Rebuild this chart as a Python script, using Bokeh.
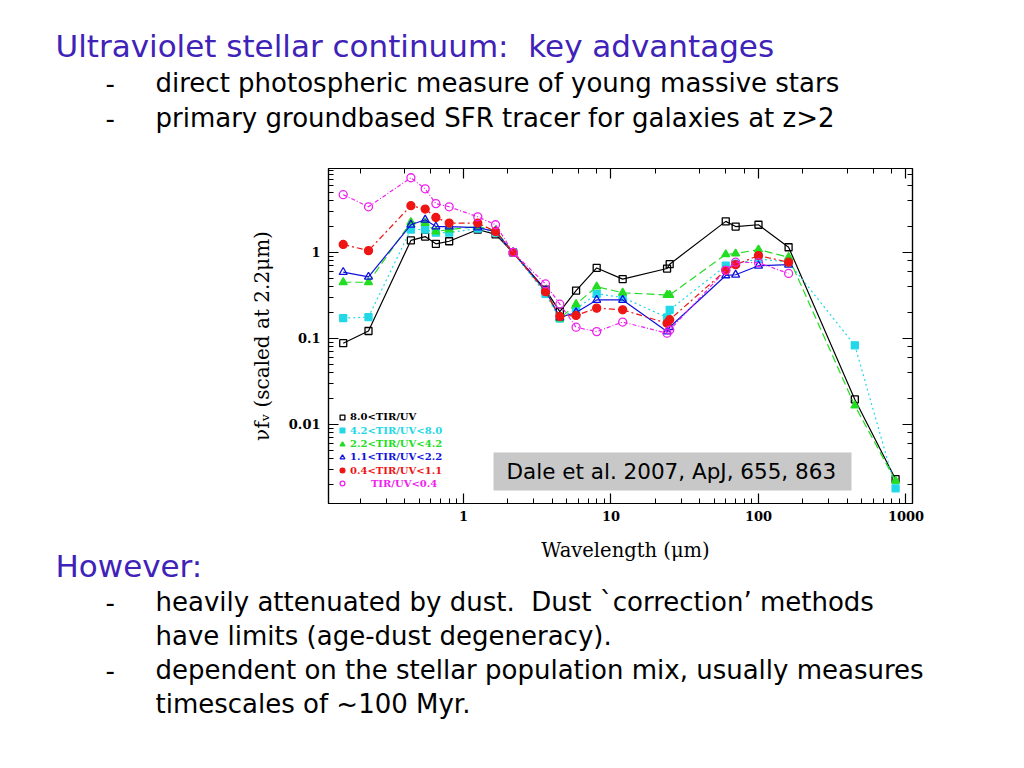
from bokeh.plotting import figure
from bokeh.layouts import column
from bokeh.models import (LogAxis, LogTicker, BoxAnnotation, Label, Legend, LegendItem,
                          CustomJSTickFormatter, Range1d)
from bokeh.core.properties import value
from bokeh.embed import file_html
from bokeh.resources import INLINE

nan = float("nan")

# ---- data ----
wavelength = [0.153, 0.227, 0.44, 0.55, 0.65, 0.80, 1.25, 1.65, 2.17, 3.6, 4.5, 5.8, 8.0,
              12, 24, 25, 60, 70, 100, 160, 450, 850]

s_80 = [0.088, 0.122, 1.38, 1.53, 1.26, 1.35, 1.85, 1.62, 1.0, 0.37, 0.205, 0.36, 0.66,
        0.49, 0.65, 0.73, 2.3, 2.0, 2.1, 1.15, 0.0195, 0.0023]
s_42 = [0.172, 0.177, 1.85, 1.85, 1.7, 1.7, 1.9, 1.7, 1.0, 0.33, 0.17, 0.22, 0.33,
        0.30, 0.175, 0.215, 0.70, 0.74, 0.84, 0.77, 0.083, 0.0018]
s_22 = [0.45, 0.45, 2.25, 2.2, 1.75, 1.85, 2.0, 1.8, 1.0, 0.35, 0.17, 0.25, 0.40,
        0.34, 0.32, 0.32, 0.95, 0.97, 1.08, 0.88, 0.0165, 0.0022]
s_11 = [0.59, 0.52, 2.1, 2.4, 2.0, 2.0, 1.95, 1.75, 1.0, 0.36, 0.175, 0.20, 0.28,
        0.28, 0.12, 0.135, 0.54, 0.55, 0.70, 0.72, nan, nan]
s_04 = [1.24, 1.05, 3.5, 3.2, 2.55, 2.2, 2.2, 1.75, 1.0, 0.35, 0.18, 0.185, 0.225,
        0.215, 0.15, 0.165, 0.62, 0.72, 0.92, 0.77, nan, nan]
s_00 = [4.7, 3.4, 7.4, 5.5, 3.7, 3.4, 2.6, 2.1, 1.0, 0.43, 0.25, 0.135, 0.12,
        0.155, 0.115, 0.125, 0.62, 0.77, 0.76, 0.57, nan, nan]

labels = ["8.0<TIR/UV", "4.2<TIR/UV<8.0", "2.2<TIR/UV<4.2", "1.1<TIR/UV<2.2",
          "0.4<TIR/UV<1.1", "\u00a0\u00a0\u00a0\u00a0\u00a0\u00a0TIR/UV<0.4"]
series = [s_80, s_42, s_22, s_11, s_04, s_00]

# ---- styles ----
colors = ["black", "#22d8e6", "#22dd22", "#1111dd", "#ee1515", "#ee22ee"]
markers = ["square", "square", "triangle", "triangle", "circle", "circle"]
filled = [False, True, True, False, True, False]
dashes = ["solid", "2 3", "8 4", "solid", "6 3 2 3", "4 2 1 2"]
msizes = [7, 7, 8, 8, 8, 8]

W = 1008
A_TOP, B_TOP, C_TOP, C_BOT = 0, 140, 530, 752
FL, FR, FT, FB = 328, 912, 168, 503   # page coords of the plot frame


def text_fig(top, bottom):
    f = figure(width=W, height=bottom - top, x_range=Range1d(0, W),
               y_range=Range1d(bottom, top), x_axis_type=None, y_axis_type=None,
               output_backend="svg", toolbar_location=None, min_border=0)
    f.outline_line_color = None
    f.background_fill_color = "white"
    f.border_fill_color = "white"
    return f


# ---- chart ----
p = figure(width=W, height=C_TOP - B_TOP, x_axis_type="log", y_axis_type="log",
           x_range=Range1d(0.1216, 1107), y_range=Range1d(0.0012, 9.48),
           output_backend="svg", toolbar_location=None,
           min_border_left=FL, min_border_right=W - FR,
           min_border_top=FT - B_TOP, min_border_bottom=C_TOP - FB)
p.xgrid.visible = False
p.ygrid.visible = False
p.outline_line_color = "black"
p.outline_line_width = 1.2

fmt = CustomJSTickFormatter(code="return String(Number(tick.toPrecision(3)))")
blank = CustomJSTickFormatter(code="return ''")


def style(ax, show):
    ax.major_tick_in = 10
    ax.major_tick_out = 0
    ax.minor_tick_in = 5
    ax.minor_tick_out = 0
    ax.axis_line_color = "black"
    ax.axis_line_width = 1.2
    ax.major_tick_line_color = "black"
    ax.minor_tick_line_color = "black"
    ax.major_tick_line_width = 1.2
    ax.minor_tick_line_width = 1
    if show:
        ax.formatter = fmt
        ax.major_label_text_font = "DejaVu Serif"
        ax.major_label_text_font_size = "13px"
        ax.major_label_text_font_style = "bold"
        ax.major_label_text_color = "black"
        ax.axis_label_text_font = "DejaVu Serif"
        ax.axis_label_text_font_style = "normal"
        ax.axis_label_text_font_size = "20px"
        ax.axis_label_text_color = "black"
    else:
        ax.formatter = blank
        ax.major_label_text_color = None


p.xaxis[0].major_label_standoff = 7
p.yaxis[0].axis_label = "\u03bdf\u1d65 (scaled at 2.2\u03bcm)"
p.yaxis[0].major_label_standoff = 8
p.yaxis[0].axis_label_standoff = 12
style(p.xaxis[0], True)
style(p.yaxis[0], True)

top = LogAxis(ticker=LogTicker())
right = LogAxis(ticker=LogTicker())
style(top, False)
style(right, False)
p.add_layout(top, "above")
p.add_layout(right, "right")

scatters = []
for vals, c, m, f, d, s in zip(series, colors, markers, filled, dashes, msizes):
    p.line(wavelength, vals, line_color=c, line_dash=d, line_width=1.2)
    r = p.scatter(wavelength, vals, marker=m, size=s, line_color=c, line_width=1.3,
                  fill_color=c if f else None)
    scatters.append(r)


def sx(px):
    return px - FL


def sy(py):
    return FB - py


# legend: one per entry so that each label has its series colour
row_y = [416.7, 430.2, 443.5, 456.8, 470.0, 483.0]
for lab, c, r, yy in zip(labels, colors, scatters, row_y):
    lg = Legend(items=[LegendItem(label=lab, renderers=[r])],
                location=(sx(336), sy(yy) - 6),
                background_fill_alpha=0, border_line_color=None,
                label_text_color=c, label_text_font="DejaVu Serif",
                label_text_font_style="bold", label_text_font_size="10px",
                glyph_width=12, glyph_height=12, label_height=12,
                padding=0, margin=0, spacing=0, label_standoff=2)
    p.add_layout(lg)

# citation box
p.add_layout(BoxAnnotation(left=sx(493), right=sx(851), bottom=sy(490), top=sy(452),
                           left_units="screen", right_units="screen",
                           top_units="screen", bottom_units="screen",
                           fill_color="#c8c8c8", fill_alpha=1, line_color=None))
p.add_layout(Label(x=sx(506), y=sy(471), x_units="screen", y_units="screen",
                   text="Dale et al. 2007, ApJ, 655, 863", text_font="DejaVu Sans",
                   text_font_size="21.5px", text_color="black", text_baseline="middle"))

# ---- slide text ----
purple = "#3f22b8"
fa = text_fig(A_TOP, B_TOP)
fa.text(x=[55], y=[45], text=["Ultraviolet stellar continuum:\u00a0 key advantages"],
        text_font=value("DejaVu Sans"), text_font_size=value("31px"), text_color=purple,
        text_baseline="middle")
fa.text(x=[105, 155, 105, 155], y=[82, 82, 117, 117],
        text=["-", "direct photospheric measure of young massive stars",
              "-", "primary groundbased SFR tracer for galaxies at z>2"],
        text_font=value("DejaVu Sans"), text_font_size=value("26px"), text_color="black",
        text_baseline="middle")

fc = text_fig(C_TOP, C_BOT)
fc.text(x=[625], y=[550], text=["Wavelength (\u03bcm)"],
        text_font=value("DejaVu Serif"), text_font_size=value("19.5px"), text_color="black",
        text_baseline="middle", text_align="center")
fc.text(x=[55], y=[565], text=["However:"],
        text_font=value("DejaVu Sans"), text_font_size=value("31px"), text_color=purple,
        text_baseline="middle")
fc.text(x=[105, 155, 155, 105, 155, 155], y=[601, 601, 635, 669, 669, 703],
        text=["-", "heavily attenuated by dust.\u00a0 Dust `correction\u2019 methods",
              "have limits (age-dust degeneracy).",
              "-", "dependent on the stellar population mix, usually measures",
              "timescales of ~100 Myr."],
        text_font=value("DejaVu Sans"), text_font_size=value("26px"), text_color="black",
        text_baseline="middle")

for f in (fa, p, fc):
    try:
        f.frame_align = False
    except Exception:
        pass

layout = column(fa, p, fc, spacing=0)
open("out.html", "w").write(file_html(layout, INLINE))
